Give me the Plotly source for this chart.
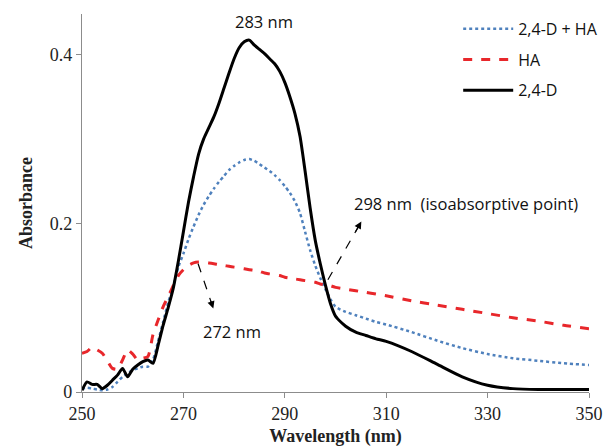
import plotly.graph_objects as go

wavelength = list(range(250, 301)) + [302, 304, 306, 308, 310, 315, 320, 325, 330, 335, 340, 345, 350]

abs_24d_ha = [0.004, 0.005, 0.004, 0.003, 0.002, 0.003, 0.006, 0.012, 0.018, 0.022,
              0.026, 0.028, 0.030, 0.030, 0.038, 0.060, 0.083, 0.106, 0.125, 0.148,
              0.164, 0.181, 0.196, 0.210, 0.222, 0.232, 0.241, 0.249, 0.256, 0.263,
              0.268, 0.272, 0.275, 0.276, 0.274, 0.270, 0.266, 0.262, 0.257, 0.251,
              0.244, 0.236, 0.226, 0.212, 0.190, 0.168, 0.150, 0.135, 0.122, 0.110,
              0.101, 0.095, 0.091, 0.087, 0.083, 0.080, 0.071, 0.061, 0.052, 0.045,
              0.040, 0.037, 0.034, 0.032]

abs_ha = [0.046, 0.048, 0.053, 0.050, 0.046, 0.037, 0.028, 0.027, 0.038, 0.050,
          0.045, 0.038, 0.040, 0.042, 0.068, 0.085, 0.101, 0.113, 0.126, 0.138,
          0.145, 0.150, 0.153, 0.154, 0.154, 0.153, 0.152, 0.151, 0.150, 0.149,
          0.148, 0.147, 0.146, 0.145, 0.144, 0.143, 0.141, 0.140, 0.139, 0.138,
          0.136, 0.135, 0.134, 0.133, 0.132, 0.131, 0.130, 0.128, 0.127, 0.126,
          0.124, 0.122, 0.120, 0.118, 0.116, 0.114, 0.108, 0.103, 0.098, 0.093,
          0.088, 0.084, 0.079, 0.075]

abs_24d = [0.002, 0.012, 0.009, 0.009, 0.004, 0.008, 0.014, 0.020, 0.028, 0.018,
           0.027, 0.032, 0.036, 0.038, 0.034, 0.055, 0.079, 0.100, 0.123, 0.155,
           0.190, 0.225, 0.255, 0.282, 0.300, 0.313, 0.326, 0.342, 0.360, 0.378,
           0.395, 0.408, 0.415, 0.417, 0.411, 0.406, 0.401, 0.395, 0.389, 0.380,
           0.367, 0.350, 0.330, 0.303, 0.262, 0.218, 0.180, 0.152, 0.127, 0.105,
           0.090, 0.078, 0.071, 0.067, 0.063, 0.060, 0.048, 0.033, 0.018, 0.008,
           0.004, 0.003, 0.003, 0.003]

x_ticks = [250, 270, 290, 310, 330, 350]
y_ticks = [0, 0.2, 0.4]
y_tick_labels = ["0", "0.2", "0.4"]

fig = go.Figure()
fig.add_trace(go.Scatter(x=wavelength, y=abs_24d_ha, mode="lines", name="2,4-D + HA",
                         line=dict(color="#4F81BD", width=2.5, dash="dot", shape="spline", smoothing=0.6),
                         legendgroup="a"))
fig.add_trace(go.Scatter(x=wavelength, y=abs_ha, mode="lines", name="HA",
                         line=dict(color="#E8272B", width=3, dash="dash", shape="spline", smoothing=0.6),
                         legendgroup="b"))
fig.add_trace(go.Scatter(x=wavelength, y=abs_24d, mode="lines", name="2,4-D",
                         line=dict(color="black", width=3, shape="spline", smoothing=0.6),
                         legendgroup="c"))

ann_font = dict(family="Open Sans, Arial, sans-serif", size=16.5, color="#111111")

# dashed arrow lines
arrows = [((272.9, 0.152), (275.9, 0.099)), ((298.5, 0.133), (305.1, 0.202))]
for (x0, y0), (x1, y1) in arrows:
    fig.add_shape(type="line", x0=x0, y0=y0, x1=x1, y1=y1, xref="x", yref="y",
                  line=dict(color="black", width=1.2, dash="dash"))
    fig.add_annotation(x=x1, y=y1, ax=x0 + (x1 - x0) * 0.8, ay=y0 + (y1 - y0) * 0.8,
                       axref="x", ayref="y", xref="x", yref="y", text="", showarrow=True,
                       arrowhead=2, arrowsize=1.2, arrowwidth=1.2, arrowcolor="black")

fig.add_annotation(x=285.8, y=0.439, text="283 nm", showarrow=False, font=ann_font)
fig.add_annotation(x=279.5, y=0.072, text="272 nm", showarrow=False, font=ann_font)
fig.add_annotation(x=303.3, y=0.224, text="298 nm  (isoabsorptive point)", showarrow=False,
                   font=ann_font, xanchor="left")

serif = "Liberation Serif, Times New Roman, serif"
fig.update_layout(
    width=608, height=448,
    margin=dict(l=82, r=19, t=14, b=56, autoexpand=False),
    paper_bgcolor="white", plot_bgcolor="white",
    showlegend=True,
    legend=dict(x=0.742, y=1.006, xanchor="left", yanchor="top", bgcolor="rgba(0,0,0,0)",
                font=dict(family="Open Sans, Arial, sans-serif", size=16, color="#111111"),
                tracegroupgap=7, itemwidth=50),
    xaxis=dict(range=[250, 350], tickvals=x_ticks, showgrid=False, zeroline=False,
               showline=True, linecolor="#8c8c8c", linewidth=1.2, automargin=False,
               ticks="outside", ticklen=5, tickcolor="#8c8c8c",
               tickfont=dict(family=serif, size=18, color="#222222"),
               title=dict(text="<b>Wavelength (nm)</b>", standoff=6,
                          font=dict(family=serif, size=18, color="#222222"))),
    yaxis=dict(range=[0, 0.448], tickvals=y_ticks, ticktext=y_tick_labels, showgrid=False, zeroline=False,
               showline=True, linecolor="#8c8c8c", linewidth=1.2, automargin=False,
               ticks="outside", ticklen=5, tickcolor="#8c8c8c",
               tickfont=dict(family=serif, size=18, color="#222222"),
               title=dict(text="<b>Absorbance</b>", standoff=12,
                          font=dict(family=serif, size=18, color="#222222"))),
)

fig.write_html("out.html")
